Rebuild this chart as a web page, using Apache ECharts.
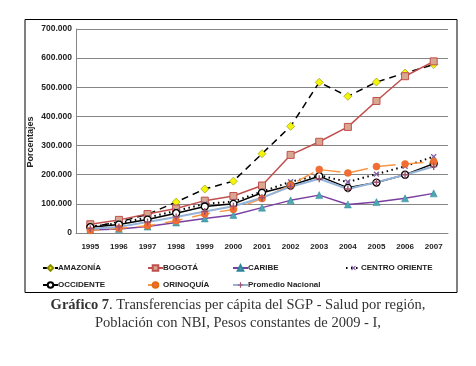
<!DOCTYPE html>
<html>
<head>
<meta charset="utf-8">
<script src="https://cdn.jsdelivr.net/npm/echarts@6/dist/echarts.min.js"></script>
<style>
  html, body { margin: 0; padding: 0; background: #fff; }
  #chart { width: 476px; height: 366px; }
</style>
</head>
<body>
<div id="chart"></div>
<script>
// años
var years = ["1995", "1996", "1997", "1998", "1999", "2000", "2001", "2002", "2003", "2004", "2005", "2006", "2007"];

// valores (pesos per capita)
var amazonia = [20000, 38000, 64000, 106000, 151000, 178000, 272000, 366000, 517000, 469000, 518000, 549000, 578000];
var bogota = [30000, 45000, 65000, 84000, 111000, 127000, 163000, 268000, 313000, 364000, 453000, 538000, 589000];
var caribe = [10000, 14000, 22000, 36000, 50000, 62000, 87000, 112000, 130000, 98000, 106000, 119000, 136000];
var centroOriente = [22000, 34000, 53000, 76000, 100000, 108000, 142000, 176000, 198000, 175000, 202000, 229000, 262000];
var occidente = [20000, 29000, 46000, 68000, 91000, 100000, 138000, 163000, 195000, 155000, 173000, 200000, 238000];
var orinoquia = [9000, 16000, 25000, 42000, 65000, 81000, 118000, 165000, 218000, 206000, 228000, 237000, 245000];
var promedio = [15000, 21000, 38000, 55000, 74000, 92000, 121000, 159000, 186000, 151000, 174000, 200000, 228000];

var plusPath = "path://M4,0H6V4H10V6H6V10H4V6H0V4H4Z";

var series = [
  {
    name: "AMAZONÍA", data: amazonia,
    lineStyle: { color: "#000", width: 1.5, type: [7, 5] },
    symbol: "diamond", symbolSize: 8,
    itemStyle: { color: "#f5f50a", borderColor: "#8c8c00", borderWidth: 0.6 }
  },
  {
    name: "BOGOTÁ", data: bogota,
    lineStyle: { color: "#c0504d", width: 1.5 },
    symbol: "rect", symbolSize: 7,
    itemStyle: { color: "#d9a690", borderColor: "#c0504d", borderWidth: 1 }
  },
  {
    name: "CARIBE", data: caribe,
    lineStyle: { color: "#7a3fa0", width: 1.5 },
    symbol: "triangle", symbolSize: 7,
    itemStyle: { color: "#4ba7b0", borderColor: "#31859c", borderWidth: 0.5 }
  },
  {
    name: "CENTRO ORIENTE", data: centroOriente,
    lineStyle: { color: "#000", width: 2, type: [1.5, 3.5] },
    symbol: plusPath, symbolSize: 7, symbolRotate: 45,
    itemStyle: { color: "#8064a2" }
  },
  {
    name: "OCCIDENTE", data: occidente,
    lineStyle: { color: "#000", width: 1.5 },
    symbol: "circle", symbolSize: 7,
    itemStyle: { color: "#fff", borderColor: "#000", borderWidth: 1.3 }
  },
  {
    name: "ORINOQUÍA", data: orinoquia,
    lineStyle: { color: "#f79646", width: 1.5, type: [18, 10], dashOffset: 9 },
    symbol: "circle", symbolSize: 7,
    itemStyle: { color: "#f26b38", borderColor: "#e46c0a", borderWidth: 0.5 }
  },
  {
    name: "Promedio Nacional", data: promedio,
    lineStyle: { color: "#95b3d7", width: 2 },
    symbol: plusPath, symbolSize: 7,
    itemStyle: { color: "#a0526d" }
  }
];

// posiciones de la leyenda (dos filas)
var legendPos = [
  [37, 259], [142, 259], [227, 259], [340, 259],
  [37, 276], [142, 276], [227, 276]
];

var legends = series.map(function (s, i) {
  return {
    data: [s.name],
    left: legendPos[i][0],
    top: legendPos[i][1],
    itemWidth: 15,
    itemHeight: 7,
    textStyle: { fontFamily: "Liberation Sans", fontWeight: "bold", fontSize: 8, color: "#222", padding: [0, 0, 0, -5] }
  };
});

var option = {
  backgroundColor: "#fff",
  animation: false,
  textStyle: { fontFamily: "Liberation Sans" },
  grid: { left: 76, right: 28, top: 29, height: 204 },
  legend: legends,
  xAxis: {
    type: "category",
    data: years,
    boundaryGap: true,
    axisLine: { lineStyle: { color: "#868686" } },
    axisTick: { show: false },
    axisLabel: { color: "#222", fontSize: 8, fontWeight: "bold", margin: 10 }
  },
  yAxis: {
    type: "value",
    min: 0,
    max: 700000,
    interval: 100000,
    axisLine: { show: true, lineStyle: { color: "#868686" } },
    axisTick: { show: false },
    splitLine: { lineStyle: { color: "#868686", width: 1 } },
    axisLabel: {
      color: "#222", fontSize: 8.5, fontWeight: "bold", margin: 4,
      formatter: function (v) {
        return String(v).replace(/\B(?=(\d{3})+(?!\d))/g, ".");
      }
    }
  },
  graphic: [
    {
      type: "rect",
      shape: { x: 25, y: 19.5, width: 432, height: 273 },
      style: { fill: "none", stroke: "#000", lineWidth: 1 },
      z: -1
    },
    {
      type: "text",
      x: 31,
      y: 142,
      rotation: Math.PI / 2,
      style: {
        text: "Porcentajes",
        fontFamily: "Liberation Sans",
        fontSize: 9,
        fontWeight: "bold",
        fill: "#222",
        align: "center",
        verticalAlign: "middle"
      }
    },
    {
      type: "text",
      left: "center",
      top: 298,
      style: {
        text: "{b|Gráfico 7}. Transferencias per cápita del SGP - Salud por región,",
        fontFamily: "Liberation Serif",
        fontSize: 14.5,
        fill: "#333",
        rich: {
          b: { fontFamily: "Liberation Serif", fontSize: 14.5, fontWeight: "bold", fill: "#333" }
        }
      }
    },
    {
      type: "text",
      left: "center",
      top: 316,
      style: {
        text: "Población con NBI, Pesos constantes de 2009 - I,",
        fontFamily: "Liberation Serif",
        fontSize: 14.5,
        fill: "#333"
      }
    }
  ],
  series: series.map(function (s) {
    return Object.assign({ type: "line", showAllSymbol: true }, s);
  })
};

var chart = echarts.init(document.getElementById("chart"));
chart.setOption(option);
</script>
</body>
</html>
